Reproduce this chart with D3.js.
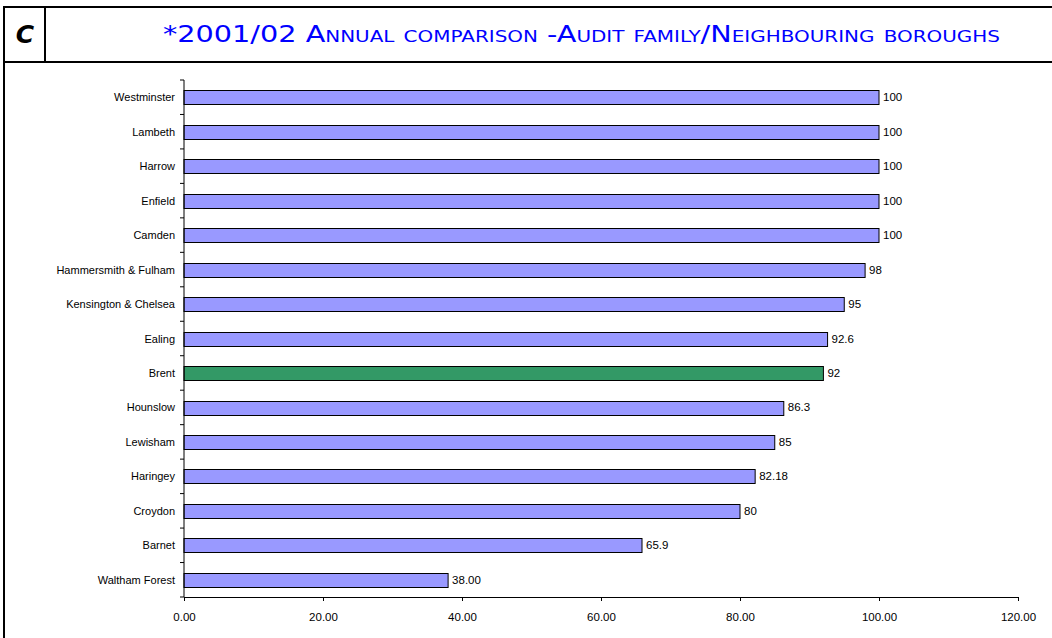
<!DOCTYPE html>
<html>
<head>
<meta charset="utf-8">
<script src="https://d3js.org/d3.v7.min.js"></script>
<style>
body { margin: 0; background: #fff; }
</style>
</head>
<body>
<script>
// borough names, top to bottom
var boroughs = ['Westminster', 'Lambeth', 'Harrow', 'Enfield', 'Camden',
  'Hammersmith & Fulham', 'Kensington & Chelsea', 'Ealing', 'Brent', 'Hounslow',
  'Lewisham', 'Haringey', 'Croydon', 'Barnet', 'Waltham Forest'];
var values = [100, 100, 100, 100, 100, 98, 95, 92.6, 92, 86.3, 85, 82.18, 80, 65.9, 38];
var valueLabels = ['100', '100', '100', '100', '100', '98', '95', '92.6', '92', '86.3', '85', '82.18', '80', '65.9', '38.00'];
var xTicks = [0, 20, 40, 60, 80, 100, 120];
var highlight = 'Brent';

var width = 1052;
var height = 638;

var svg = d3.select("body")
  .append("svg")
  .attr("width", width)
  .attr("height", height);

// frame lines
svg.append("line").attr("x1", 4).attr("x2", width).attr("y1", 7).attr("y2", 7)
  .style("stroke", "#000").style("stroke-width", 2);
svg.append("line").attr("x1", 4).attr("x2", width).attr("y1", 62).attr("y2", 62)
  .style("stroke", "#000").style("stroke-width", 2);
svg.append("line").attr("x1", 4).attr("x2", 4).attr("y1", 6).attr("y2", height)
  .style("stroke", "#000").style("stroke-width", 2);
svg.append("line").attr("x1", 45).attr("x2", 45).attr("y1", 7).attr("y2", 62)
  .style("stroke", "#000").style("stroke-width", 2);

svg.append("text")
  .attr("x", 25).attr("y", 43)
  .attr("text-anchor", "middle")
  .style("font-family", "'Comic Sans MS', 'DejaVu Sans', sans-serif")
  .style("font-weight", "bold")
  .style("font-style", "italic")
  .style("font-size", "25px")
  .text("C");

svg.append("text")
  .attr("x", 163).attr("y", 42)
  .attr("textLength", 837)
  .attr("lengthAdjust", "spacingAndGlyphs")
  .style("font-family", "'Comic Sans MS', 'DejaVu Sans', sans-serif")
  .style("font-variant", "small-caps")
  .style("font-size", "23px")
  .style("fill", "#0000ff")
  .text("*2001/02 Annual comparison -Audit family/Neighbouring boroughs");

// chart area
var plotLeft = 184, plotRight = 1018, plotTop = 80, plotBottom = 597;

var x = d3.scaleLinear().domain([0, 120]).range([plotLeft, plotRight]);
var y = d3.scaleBand().domain(boroughs).range([plotTop, plotBottom]).paddingInner(0.6).paddingOuter(0.3);

var g = svg.append("g");

g.selectAll("rect.bar")
  .data(boroughs)
  .enter()
  .append("rect")
  .attr("class", "bar")
  .attr("x", x(0))
  .attr("y", function(d) { return Math.round(y(d)) + 0.5; })
  .attr("width", function(d, i) { return x(values[i]) - x(0); })
  .attr("height", Math.round(y.bandwidth()))
  .style("fill", function(d) { return d == highlight ? '#339966' : '#9999ff'; })
  .style("stroke", "#000")
  .style("stroke-width", 1);

g.selectAll("text.val")
  .data(boroughs)
  .enter()
  .append("text")
  .attr("class", "val")
  .attr("x", function(d, i) { return x(values[i]) + 4; })
  .attr("y", function(d) { return y(d) + y.bandwidth() / 2 + 4; })
  .style("font-family", "'Liberation Sans', Arial, sans-serif")
  .style("font-size", "11.5px")
  .text(function(d, i) { return valueLabels[i]; });

// x axis
var xAxis = d3.axisBottom(x)
  .tickValues(xTicks)
  .tickFormat(d3.format(".2f"))
  .tickSize(4)
  .tickSizeOuter(4);
var xg = svg.append("g")
  .attr("transform", "translate(0," + plotBottom + ")")
  .call(xAxis);
xg.attr("font-size", 11.5).attr("font-family", "'Liberation Sans', Arial, sans-serif");
xg.selectAll("text")
  .attr("dy", "1.45em");

// y axis, ticks sit between categories
var yg = svg.append("g")
  .attr("transform", "translate(" + plotLeft + ",0)");
yg.append("line")
  .attr("x1", 0).attr("x2", 0).attr("y1", plotTop).attr("y2", plotBottom)
  .style("stroke", "#000");
var step = (plotBottom - plotTop) / boroughs.length;
yg.selectAll("line.tick")
  .data(d3.range(boroughs.length + 1))
  .enter()
  .append("line")
  .attr("class", "tick")
  .attr("x1", -4).attr("x2", 0)
  .attr("y1", function(d) { return plotTop + d * step; })
  .attr("y2", function(d) { return plotTop + d * step; })
  .style("stroke", "#000");
yg.selectAll("text.lab")
  .data(boroughs)
  .enter()
  .append("text")
  .attr("class", "lab")
  .attr("x", -9)
  .attr("y", function(d) { return y(d) + y.bandwidth() / 2 + 4; })
  .attr("text-anchor", "end")
  .style("font-family", "'Liberation Sans', Arial, sans-serif")
  .style("font-size", "11px")
  .text(function(d) { return d; });
</script>
</body>
</html>
